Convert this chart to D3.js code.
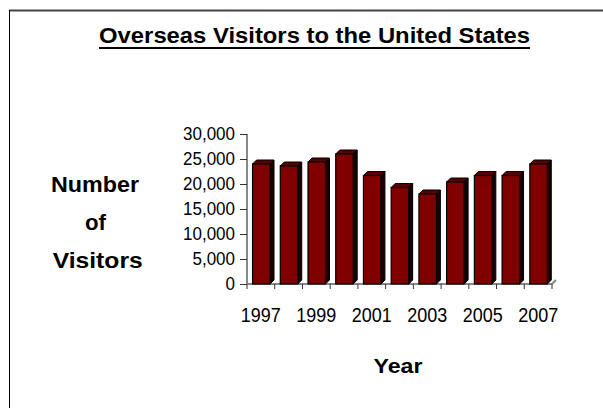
<!DOCTYPE html>
<html><head><meta charset="utf-8">
<script src="https://cdn.jsdelivr.net/npm/d3@7"></script>
<style>
html,body{margin:0;padding:0;background:#fff;}
text{font-family:"Liberation Sans",Arial,sans-serif;fill:#000;}
</style></head>
<body>
<svg id="chart" width="603" height="408"></svg>
<script>
const years = ["1997","1998","1999","2000","2001","2002","2003","2004","2005","2006","2007"];
const visitors = [24000,23600,24400,26000,21700,19300,18000,20400,21700,21700,24000];
const yTicks = [0,5000,10000,15000,20000,25000,30000];
const xLabels = ["1997","1999","2001","2003","2005","2007"];
const title = "Overseas Visitors to the United States";
const yTitle = ["Number","of","Visitors"];
const xTitle = "Year";

const svg = d3.select("#chart");
const pL = 247, pR = 552, pT = 134, pB = 284, depth = 4;

const x = d3.scaleBand().domain(years).range([pL, pR]).padding(0);
const y = d3.scaleLinear().domain([0, 30000]).range([pB, pT]);

// frame
svg.append("line").attr("x1",9).attr("x2",603).attr("y1",10.5).attr("y2",10.5).attr("stroke","#444").attr("stroke-width",2);
svg.append("line").attr("x1",9.5).attr("x2",9.5).attr("y1",10).attr("y2",408).attr("stroke","#000").attr("stroke-width",1);

// title
svg.append("text").attr("transform","translate(314.6,43.3) scale(1,1.1)")
  .attr("text-anchor","middle").attr("font-weight","bold").attr("font-size",20)
  .attr("textLength",431).attr("lengthAdjust","spacingAndGlyphs").text(title);
svg.append("line").attr("x1",99).attr("x2",530).attr("y1",48).attr("y2",48).attr("stroke","#000").attr("stroke-width",2);

// y title
const yT = [{cx:95,by:191.7,w:88},{cx:95.5,by:230,w:21},{cx:97.7,by:268.3,w:90}];
yTitle.forEach((t,i)=>{
  svg.append("text").attr("transform",`translate(${yT[i].cx},${yT[i].by}) scale(1,1.1)`)
    .attr("text-anchor","middle").attr("font-weight","bold").attr("font-size",20)
    .attr("textLength",yT[i].w).attr("lengthAdjust","spacingAndGlyphs").text(t);
});
// x title
svg.append("text").attr("transform","translate(398,372.7) scale(1,1.1)")
  .attr("text-anchor","middle").attr("font-weight","bold").attr("font-size",19)
  .attr("textLength",49).attr("lengthAdjust","spacingAndGlyphs").text(xTitle);

// floor
svg.append("path")
  .attr("d",`M${pL},${pB}L${pR},${pB}L${pR+depth},${pB-depth}`)
  .attr("fill","none").attr("stroke","#888").attr("stroke-width",2);

// y axis
const yAxis = svg.append("g").attr("transform",`translate(${pL},0)`)
  .call(d3.axisLeft(y).tickValues(yTicks).tickFormat(d3.format(",")).tickSize(7).tickPadding(5));
yAxis.select(".domain").attr("stroke","#888").attr("stroke-width",2).attr("d",`M0,${pT}V${pB}`);
yAxis.selectAll(".tick line").attr("stroke","#333");
yAxis.selectAll(".tick text").attr("font-size",17).attr("font-family","Liberation Sans, Arial, sans-serif")
  .attr("fill","#000").attr("transform","scale(1,1.1)");

// x boundary ticks
const bounds = years.map(d=>x(d)).concat([pR]);
svg.append("g").selectAll("line").data(bounds).join("line")
  .attr("x1",d=>d).attr("x2",d=>d).attr("y1",pB).attr("y2",pB+5)
  .attr("stroke","#333").attr("stroke-width",1);

// x labels
const xAxis = svg.append("g").attr("transform",`translate(0,${pB})`)
  .call(d3.axisBottom(x).tickValues(xLabels).tickSize(0).tickPadding(20));
xAxis.select(".domain").remove();
xAxis.selectAll(".tick text").attr("font-size",18).attr("font-family","Liberation Sans, Arial, sans-serif")
  .attr("fill","#000").attr("transform","scale(1,1.15)");

// bars
const bw = x.bandwidth();
const bars = svg.append("g").selectAll("g").data(years.map((yr,i)=>({yr,v:visitors[i]}))).join("g");
bars.each(function(d){
  const g = d3.select(this);
  const x0 = x(d.yr) + bw*0.2, w = bw*0.63, yt = y(d.v), yb = y(0);
  g.append("path").attr("d",`M${x0+w},${yt}L${x0+w+depth},${yt-depth}L${x0+w+depth},${yb-depth}L${x0+w},${yb}Z`)
    .attr("fill","#1a0000").attr("stroke","#000").attr("stroke-width",1);
  g.append("path").attr("d",`M${x0},${yt}L${x0+depth},${yt-depth}L${x0+w+depth},${yt-depth}L${x0+w},${yt}Z`)
    .attr("fill","#5a0000").attr("stroke","#000").attr("stroke-width",1);
  g.append("rect").attr("x",x0).attr("y",yt).attr("width",w).attr("height",yb-yt)
    .attr("fill","#800000").attr("stroke","#000").attr("stroke-width",1.2);
});
</script>
</body></html>
